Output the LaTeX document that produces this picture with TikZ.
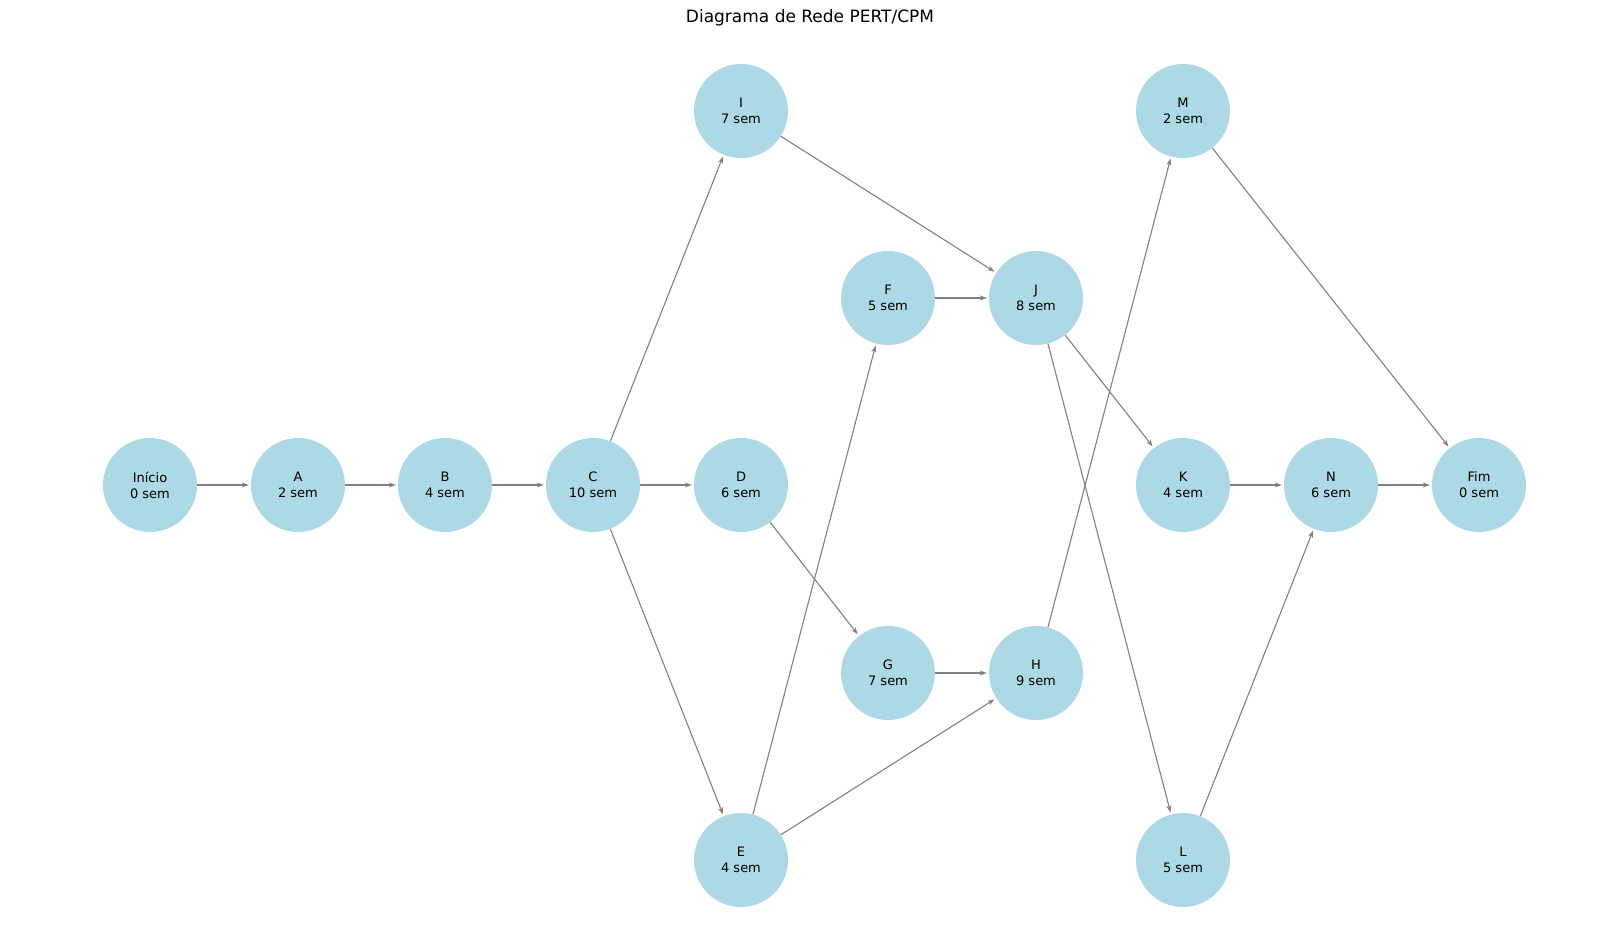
\documentclass[tikz,border=0pt]{standalone}
\usepackage{fontspec}
\setmainfont{DejaVu Sans}
\usetikzlibrary{arrows.meta}
\begin{document}
\begin{tikzpicture}[x=1pt,y=-1pt,
  nd/.style={circle,fill=cyan!20!blue!10!white,fill={rgb,255:red,173;green,216;blue,230},minimum size=94pt,inner sep=0pt,align=center,font=\fontsize{13}{16}\selectfont},
  ed/.style={draw={rgb,255:red,128;green,128;blue,128},line width=1.1pt,-{Stealth[length=7pt,width=5pt]},shorten >=2pt}]
\useasboundingbox (0,0) rectangle (1620,943);
\node[font=\fontsize{17}{20}\selectfont] (t) at (810,18) {Diagrama de Rede PERT/CPM};
\node[nd] (s) at (150,485) {Início\\0 sem};
\node[nd] (A) at (298,485) {A\\2 sem};
\node[nd] (B) at (445,485) {B\\4 sem};
\node[nd] (C) at (593,485) {C\\10 sem};
\node[nd] (D) at (741,485) {D\\6 sem};
\node[nd] (E) at (741,860) {E\\4 sem};
\node[nd] (F) at (888,298) {F\\5 sem};
\node[nd] (G) at (888,673) {G\\7 sem};
\node[nd] (H) at (1036,673) {H\\9 sem};
\node[nd] (I) at (741,111) {I\\7 sem};
\node[nd] (J) at (1036,298) {J\\8 sem};
\node[nd] (K) at (1183,485) {K\\4 sem};
\node[nd] (L) at (1183,860) {L\\5 sem};
\node[nd] (M) at (1183,111) {M\\2 sem};
\node[nd] (N) at (1331,485) {N\\6 sem};
\node[nd] (f) at (1479,485) {Fim\\0 sem};
\foreach \a/\b in {s/A,A/B,B/C,C/D,C/I,C/E,D/G,E/F,E/H,F/J,G/H,I/J,J/K,J/L,H/M,M/f,K/N,L/N,N/f}
  \draw[ed] (\a) -- (\b);
\end{tikzpicture}
\end{document}
